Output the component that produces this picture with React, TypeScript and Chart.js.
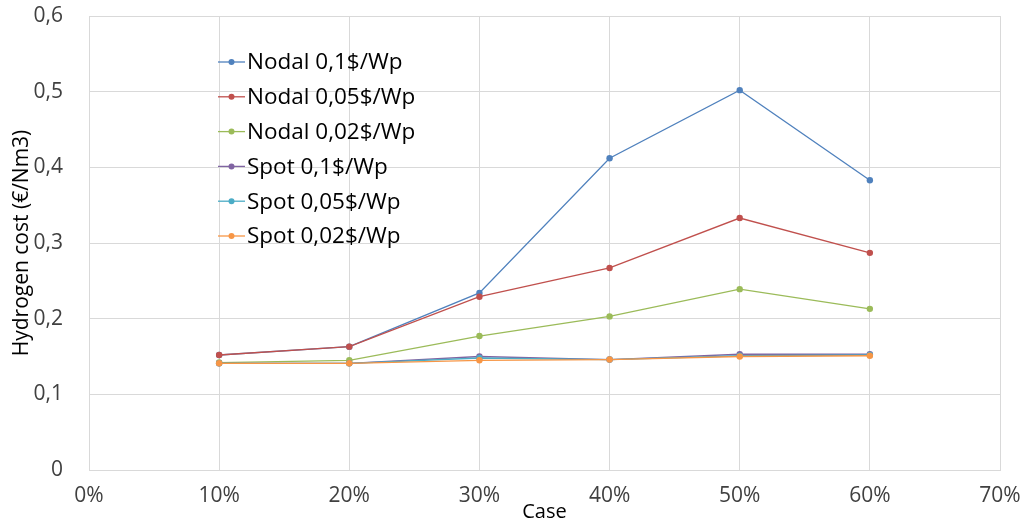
import React, { useEffect, useRef } from "react";
import { Chart, registerables } from "chart.js";

Chart.register(...registerables);

const casePercents = [10, 20, 30, 40, 50, 60];
const seriesLabels = [
  "Nodal 0,1$/Wp",
  "Nodal 0,05$/Wp",
  "Nodal 0,02$/Wp",
  "Spot 0,1$/Wp",
  "Spot 0,05$/Wp",
  "Spot 0,02$/Wp",
];
const nodal01 = [0.152, 0.163, 0.234, 0.412, 0.502, 0.383];
const nodal005 = [0.152, 0.163, 0.229, 0.267, 0.333, 0.287];
const nodal002 = [0.142, 0.145, 0.177, 0.203, 0.239, 0.213];
const spot01 = [0.141, 0.141, 0.150, 0.146, 0.153, 0.153];
const spot005 = [0.141, 0.141, 0.148, 0.146, 0.151, 0.152];
const spot002 = [0.141, 0.141, 0.145, 0.146, 0.150, 0.151];
const seriesValues = [nodal01, nodal005, nodal002, spot01, spot005, spot002];
const seriesColors = ["#4F81BD", "#C0504D", "#9BBB59", "#8064A2", "#4BACC6", "#F79646"];
const xTickMin = 0;
const xTickMax = 70;
const yTickMin = 0;
const yTickMax = 0.6;

const FONT = "'Open Sans', 'Liberation Sans', sans-serif";

const legendPlugin = {
  id: "insideLegend",
  afterDraw(chart: any) {
    const { ctx, chartArea } = chart;
    const x0 = chartArea.left + 129;
    const y0 = chartArea.top + 46;
    const step = 34.8;
    ctx.save();
    ctx.font = `22.5px ${FONT}`;
    ctx.textBaseline = "middle";
    ctx.textAlign = "left";
    chart.data.datasets.forEach((ds: any, i: number) => {
      const y = y0 + i * step;
      ctx.strokeStyle = ds.borderColor;
      ctx.lineWidth = 1.3;
      ctx.beginPath();
      ctx.moveTo(x0, y);
      ctx.lineTo(x0 + 27, y);
      ctx.stroke();
      ctx.fillStyle = ds.borderColor;
      ctx.beginPath();
      ctx.arc(x0 + 13.5, y, 3, 0, Math.PI * 2);
      ctx.fill();
      ctx.fillStyle = "#000";
      ctx.fillText(ds.label, x0 + 29, y + 1);
    });
    ctx.restore();
  },
};

export default function App() {
  const ref = useRef<HTMLCanvasElement | null>(null);
  useEffect(() => {
    document.body.style.margin = "0";
    const datasets = seriesLabels.map((label, i) => ({
      label,
      data: casePercents.map((x, j) => ({ x, y: seriesValues[i][j] })),
      borderColor: seriesColors[i],
      backgroundColor: seriesColors[i],
      borderWidth: 1.3,
      pointRadius: 3.2,
      pointBorderWidth: 0,
      pointHoverRadius: 3.2,
      tension: 0,
      fill: false,
      order: seriesLabels.length - i,
    }));
    const chart = new Chart(ref.current as HTMLCanvasElement, {
      type: "line",
      data: { datasets },
      options: {
        animation: false,
        responsive: false,
        layout: { padding: { left: 0, top: 16, right: 25, bottom: 0 } },
        plugins: { legend: { display: false }, tooltip: { enabled: false } },
        scales: {
          x: {
            type: "linear",
            min: xTickMin,
            max: xTickMax,
            grid: { color: "#d9d9d9", drawTicks: false },
            border: { color: "#d9d9d9" },
            ticks: {
              stepSize: 10,
              padding: 13,
              color: "#404040",
              font: { family: FONT, size: 21 },
              maxRotation: 0,
              callback: (v: any) => `${v}%`,
            },
            title: {
              display: true,
              text: "Case",
              color: "#000",
              font: { family: FONT, size: 20 },
              padding: { top: 0, bottom: 0 },
            },
            afterFit: (s: any) => {
              s.height = 54;
              s.paddingLeft = 0;
              s.paddingRight = 0;
            },
          },
          y: {
            type: "linear",
            min: yTickMin,
            max: yTickMax,
            grid: { color: "#d9d9d9", drawTicks: false },
            border: { color: "#d9d9d9" },
            ticks: {
              stepSize: 0.1,
              padding: 26,
              color: "#404040",
              font: { family: FONT, size: 21 },
              callback: (v: any) => (v === 0 ? "0" : Number(v).toFixed(1).replace(".", ",")),
            },
            title: {
              display: true,
              text: "Hydrogen cost (€/Nm3)",
              color: "#000",
              font: { family: FONT, size: 21 },
              padding: { top: 9, bottom: 0 },
            },
            afterFit: (s: any) => {
              s.width = 89;
              s.paddingTop = 0;
              s.paddingBottom = 0;
            },
          },
        },
      },
      plugins: [legendPlugin],
    });
    return () => chart.destroy();
  }, []);
  return (
    <div style={{ width: 1025, height: 524 }}>
      <canvas ref={ref} width={1025} height={524} />
    </div>
  );
}
